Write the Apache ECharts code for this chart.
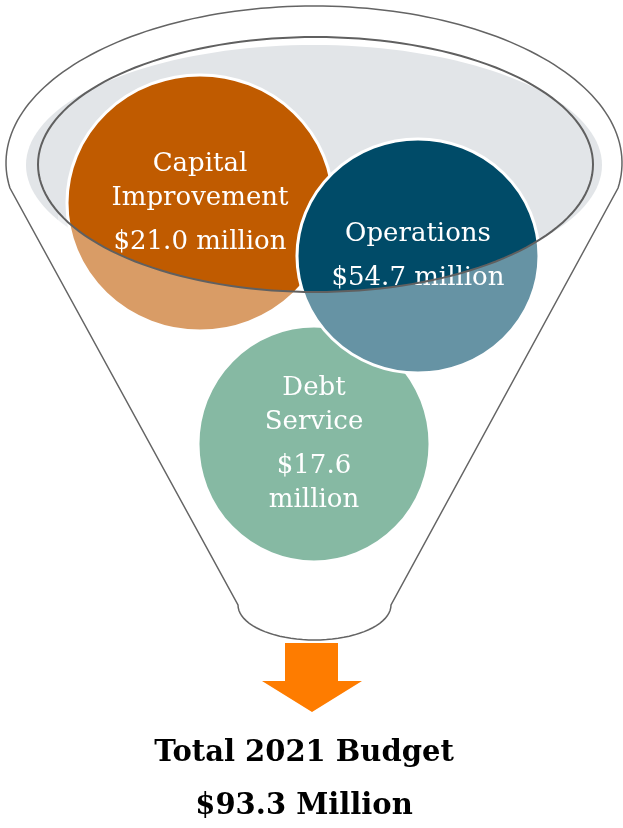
<!DOCTYPE html>
<html>
<head>
<meta charset="utf-8">
<script src="https://cdn.jsdelivr.net/npm/echarts@6/dist/echarts.min.js"></script>
<style>
  html, body { margin: 0; padding: 0; background: #fff; }
  #funnel { width: 623px; height: 828px; }
</style>
</head>
<body>
<div id="funnel"></div>
<script>
// budget pieces
var categories = ['Capital\nImprovement', 'Debt\nService', 'Operations'];
var budgetMillions = [21.0, 17.6, 54.7];
var budgetYear = 2021;
var totalMillions = 93.3;

// bubble layout, in pixels of the 623x828 page
var bubbleCenters = [[200, 203], [314, 444], [418, 256]];
var bubbleSizes = [[266, 256], [232, 236], [242, 234]];
var bubbleColors = ['#c05b00', '#368a67', '#004b68']; // lighter below the rim
var wrapValue = [false, true, false];

var dom = document.getElementById('funnel');
var myChart = echarts.init(dom);

// points on an ellipse, angle t0..t1 (y goes down)
function ellipsePts(cx, cy, rx, ry, t0, t1, n) {
    var pts = [];
    for (var i = 0; i <= n; i++) {
        var t = t0 + (t1 - t0) * i / n;
        pts.push([cx + rx * Math.cos(t), cy + ry * Math.sin(t)]);
    }
    return pts;
}

// funnel body: top arc, sides, rounded neck
var funnelPts = ellipsePts(314, 163, 308, 157, Math.PI - 0.16, 2 * Math.PI + 0.16, 120)
    .concat(ellipsePts(314.5, 605, 76.5, 35, 0, Math.PI, 40));

// rim of the "liquid"
var rim = { cx: 315.5, cy: 164.5, rx: 277.5, ry: 127.5 };
var rimPts = ellipsePts(rim.cx, rim.cy, rim.rx, rim.ry, 0, 2 * Math.PI, 160);

// white veil over the part of the bubbles that hangs below the rim
var xa = 58, xb = 548;
var ta = Math.acos((xb - rim.cx) / rim.rx), tb = Math.acos((xa - rim.cx) / rim.rx);
var veilPts = ellipsePts(rim.cx, rim.cy, rim.rx, rim.ry, ta, tb, 80)
    .concat([[xa, 575], [xb, 575]]);

var bubbleData = categories.map(function (name, i) {
    return {
        name: name,
        value: bubbleCenters[i],
        symbolSize: bubbleSizes[i],
        itemStyle: { color: bubbleColors[i] }
    };
});

option = {
    animation: false,
    grid: { left: 0, right: 0, top: 0, bottom: 0 },
    xAxis: { type: 'value', min: 0, max: 623, show: false },
    yAxis: { type: 'value', min: 0, max: 828, inverse: true, show: false },
    series: [
        {
            type: 'scatter',
            symbol: 'circle',
            z: 2,
            data: bubbleData,
            itemStyle: { borderColor: '#ffffff', borderWidth: 3, opacity: 1 },
            emphasis: { disabled: true },
            label: {
                show: true,
                position: 'inside',
                color: '#ffffff',
                fontFamily: 'DejaVu Serif',
                fontSize: 26,
                formatter: function (p) {
                    var i = p.dataIndex;
                    var money = '$' + budgetMillions[i].toFixed(1) + (wrapValue[i] ? '\n' : ' ') + 'million';
                    var lines = categories[i].split('\n').concat([' ']).concat(money.split('\n'));
                    return lines.map(function (s) {
                        return s === ' ' ? '{gap| }' : '{t|' + s + '}';
                    }).join('\n');
                },
                rich: {
                    t: { fontFamily: 'DejaVu Serif', fontSize: 26, lineHeight: 34, color: '#ffffff' },
                    gap: { fontSize: 2, lineHeight: 10 }
                }
            }
        }
    ],
    graphic: [
        { type: 'polygon', z: 0, shape: { points: funnelPts }, style: { fill: '#ffffff', stroke: null } },
        {
            type: 'polygon', z: 1,
            shape: { points: ellipsePts(314, 165, 288, 120, 0, 2 * Math.PI, 160) },
            style: { fill: '#e2e5e8' }
        },
        { type: 'polygon', z: 5, shape: { points: veilPts }, style: { fill: 'rgba(255,255,255,0.4)' } },
        { type: 'polygon', z: 6, shape: { points: rimPts }, style: { fill: null, stroke: '#606060', lineWidth: 2 } },
        { type: 'polygon', z: 6, shape: { points: funnelPts }, style: { fill: null, stroke: '#646464', lineWidth: 1.5 } },
        {
            type: 'polygon', z: 6,
            shape: { points: [[285, 643], [338, 643], [338, 681], [362, 681], [312, 712], [262, 681], [285, 681]] },
            style: { fill: '#fe7c00' }
        },
        {
            type: 'text', z: 6, x: 304, y: 753,
            style: {
                text: 'Total ' + budgetYear + ' Budget',
                fill: '#000000', font: 'bold 29px "DejaVu Serif"',
                textAlign: 'center', textVerticalAlign: 'middle'
            }
        },
        {
            type: 'text', z: 6, x: 304, y: 806,
            style: {
                text: '$' + totalMillions.toFixed(1) + ' Million',
                fill: '#000000', font: 'bold 29px "DejaVu Serif"',
                textAlign: 'center', textVerticalAlign: 'middle'
            }
        }
    ]
};
if (option && typeof option === "object") {
    myChart.setOption(option, true);
}
</script>
</body>
</html>
